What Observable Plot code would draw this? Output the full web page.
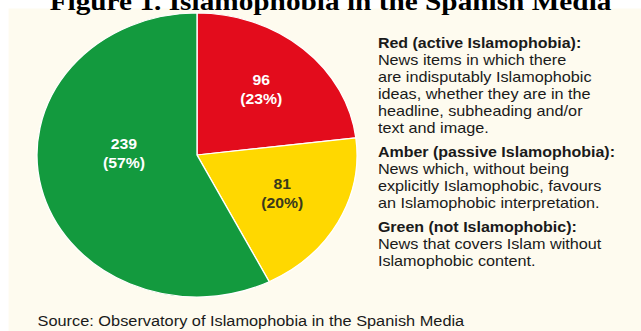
<!DOCTYPE html>
<html>
<head>
<meta charset="utf-8">
<script src="https://cdn.jsdelivr.net/npm/d3@7"></script>
<script src="https://cdn.jsdelivr.net/npm/@observablehq/plot@0.6"></script>
<style>
  html, body { margin: 0; padding: 0; background: #ffffff; }
  #wrap { width: 641px; height: 331px; overflow: hidden; position: relative; }
  #chart { transform-origin: 0 0; }
  #chart svg { display: block; }
</style>
</head>
<body>
<div id="wrap"><div id="chart"></div></div>
<script>
// ---- data ----
const titleText = "Figure 1. Islamophobia in the Spanish Media";
const sourceText = "Source: Observatory of Islamophobia in the Spanish Media";
const categories = ["Red", "Amber", "Green"];
const counts = [96, 81, 239];
const percentLabels = ["23%", "20%", "57%"];
const legendHeads = [
  "Red (active Islamophobia):",
  "Amber (passive Islamophobia):",
  "Green (not Islamophobic):"
];
const legendBodies = [
  ["News items in which there", "are indisputably Islamophobic", "ideas, whether they are in the", "headline, subheading and/or", "text and image."],
  ["News which, without being", "explicitly Islamophobic, favours", "an Islamophobic interpretation."],
  ["News that covers Islam without", "Islamophobic content."]
];

// ---- layout ----
const STRETCH = 1.127;           // the reference is stretched horizontally
const W = 641 / STRETCH, H = 331;
const CX = 174.8, CY = 155, R = 142;
const sliceColors = ["#E30C1C", "#FFD800", "#139A3E"];
const labelColors = ["#ffffff", "#3a3a1c", "#ffffff"];

const slices = categories.map((c, i) => ({cat: c, count: counts[i], pct: percentLabels[i]}));
const arcs = d3.pie().sort(null).value(d => d.count)(slices);

// label positions: inside each slice (best-fit style)
const labels = [];
arcs.forEach((a, i) => {
  const theta = a.endAngle - a.startAngle;
  let mid = (a.startAngle + a.endAngle) / 2;
  let d;
  if (theta > Math.PI) {
    // large slice: centre the label in the part lying in the left half
    const s = Math.max(a.startAngle, Math.PI), e = Math.min(a.endAngle, 2 * Math.PI);
    mid = (s + e) / 2;
    d = 0.46 * R;
  } else {
    d = Math.min(0.6, 4 * Math.sin(theta / 2) / (3 * theta)) * R;
  }
  const lx = CX + d * Math.sin(mid);
  const ly = CY - d * Math.cos(mid);
  labels.push({x: lx, y: ly - 11, text: String(a.data.count), i});
  labels.push({x: lx, y: ly + 8, text: "(" + a.data.pct + ")", i});
});

// legend lines
const legendLines = [];
let line = 0;
legendHeads.forEach((h, g) => {
  legendLines.push({text: h, bold: true, y: 43.3 + 17 * line + 7 * g}); line++;
  legendBodies[g].forEach(t => { legendLines.push({text: t, bold: false, y: 43.3 + 17 * line + 7 * g}); line++; });
});
const LX = 334.8;

function pieMark(index, scales) {
  const g = d3.create("svg:g");
  const cx = scales.x(CX), cy = scales.y(CY);
  const r = scales.x(CX + R) - cx;
  const arcGen = d3.arc().innerRadius(0).outerRadius(r);
  g.selectAll("path").data(arcs).join("path")
    .attr("transform", `translate(${cx},${cy})`)
    .attr("d", arcGen)
    .attr("fill", (d, i) => sliceColors[i])
    .attr("stroke", "#ffffff")
    .attr("stroke-width", 1.2)
    .attr("stroke-linejoin", "round");
  return g.node();
}

const sans = "'Liberation Sans', Arial, Helvetica, sans-serif";

const plot = Plot.plot({
  width: W,
  height: H,
  margin: 0,
  x: {domain: [0, W], range: [0, W], axis: null},
  y: {domain: [0, H], range: [0, H], axis: null},
  style: {background: "transparent", overflow: "visible"},
  marks: [
    Plot.frame({fill: "#FEFBEF", stroke: "none", insetLeft: 7.1, insetTop: 8}),
    pieMark,
    Plot.text(labels, {
      x: "x", y: "y", text: "text",
      fill: d => labelColors[d.i],
      fontSize: 14, fontWeight: "bold", fontFamily: sans, textAnchor: "middle", lineAnchor: "middle"
    }),
    Plot.text(legendLines.filter(d => d.bold), {
      x: () => LX, y: "y", text: "text",
      fontWeight: "bold", fontSize: 14.2,
      fill: "#1a1a1a", fontFamily: sans, textAnchor: "start", lineAnchor: "middle"
    }),
    Plot.text(legendLines.filter(d => !d.bold), {
      x: () => LX, y: "y", text: "text",
      fontWeight: "normal", fontSize: 14.4,
      fill: "#1a1a1a", fontFamily: sans, textAnchor: "start", lineAnchor: "middle"
    }),
    Plot.text([sourceText], {
      x: () => 32.8, y: () => 320.5, text: d => d,
      fontSize: 14.5, fill: "#1a1a1a", fontFamily: sans, textAnchor: "start", lineAnchor: "middle"
    }),
    Plot.text([titleText], {
      x: () => 292.8, y: () => 9.5, text: d => d,
      fontSize: 26, fontWeight: "bold", fill: "#000000",
      fontFamily: "'Liberation Serif', 'Times New Roman', serif", textAnchor: "middle", lineAnchor: "bottom"
    })
  ]
});

const chart = document.getElementById("chart");
chart.style.transform = `scaleX(${STRETCH})`;
chart.appendChild(plot);
</script>
</body>
</html>
